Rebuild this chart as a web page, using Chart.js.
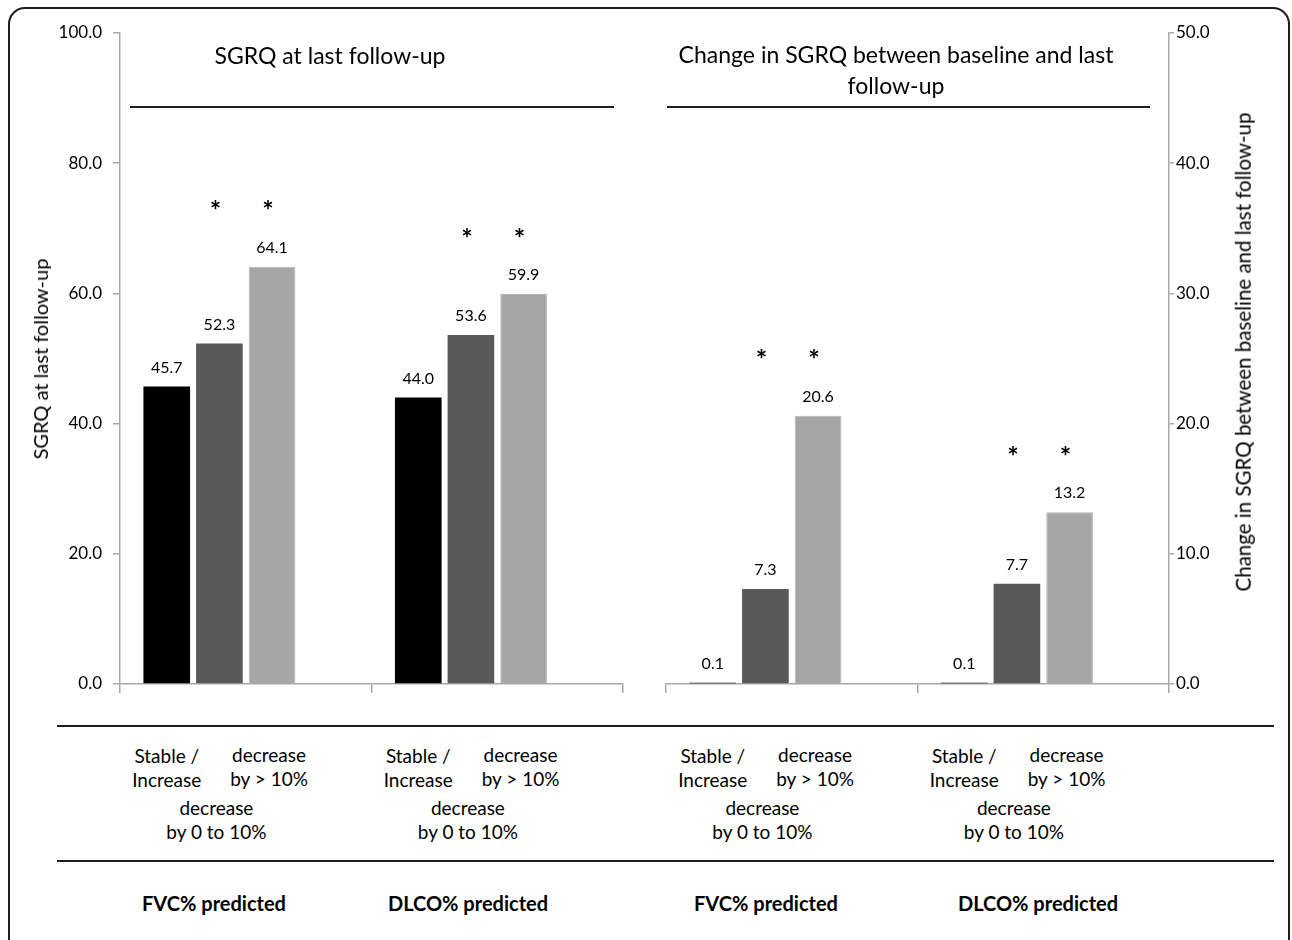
<!DOCTYPE html>
<html><head><meta charset="utf-8">
<script src="https://cdn.jsdelivr.net/npm/chart.js@4.4.1/dist/chart.umd.min.js"></script>
<style>
html,body{margin:0;padding:0;background:#fff;}
body{width:1292px;height:940px;position:relative;overflow:hidden;font-family:Lato,"Open Sans",sans-serif;color:#000;}
#frame{position:absolute;left:8px;top:7px;width:1282px;height:990px;border:2px solid #1e1e1e;border-radius:17px;box-sizing:border-box;}
.c{position:absolute;top:0;height:720px;}
#leftBox{left:0;width:640px;}
#rightBox{left:640px;width:652px;}
.t{position:absolute;white-space:nowrap;transform:translate(-50%,-50%);line-height:1;}
.g{position:absolute;white-space:nowrap;transform:translateX(-50%);text-align:center;font-size:19px;line-height:24px;}
.hl{position:absolute;height:2px;background:#1e1e1e;}
.ttl{font-size:23px;}
.ax{font-size:20px;}
.b{font-weight:bold;font-size:20px;}
</style></head>
<body>
<div id="frame"></div>
<div class="c" id="leftBox"><canvas id="leftChart"></canvas></div>
<div class="c" id="rightBox"><canvas id="rightChart"></canvas></div>

<div class="t ttl" style="left:330px;top:55px;">SGRQ at last follow-up</div>
<div class="hl" style="left:130px;top:106px;width:484px;"></div>
<div class="t ttl" style="left:896px;top:70px;line-height:31px;text-align:center;">Change in SGRQ between baseline and last<br>follow-up</div>
<div class="hl" style="left:667px;top:106px;width:483px;"></div>

<div class="t ax" style="left:40px;top:359px;transform:translate(-50%,-50%) rotate(-90deg);">SGRQ at last follow-up</div>
<div class="t ax" style="left:1243px;top:352px;transform:translate(-50%,-50%) rotate(-90deg);font-size:20.5px;">Change in SGRQ between baseline and last follow-up</div>

<div class="hl" style="left:57px;top:725px;width:1217px;"></div>
<div class="hl" style="left:57px;top:860px;width:1217px;"></div>

<div class="t b" style="left:214px;top:903px;">FVC% predicted</div>
<div class="t b" style="left:468px;top:903px;">DLCO% predicted</div>
<div class="t b" style="left:766px;top:903px;">FVC% predicted</div>
<div class="t b" style="left:1038px;top:903px;">DLCO% predicted</div>

<div id="labels"></div>

<script>
// ---- data ----
const groups = ['FVC% predicted', 'DLCO% predicted'];
const categoryNames = ['Stable / Increase', 'decrease by 0 to 10%', 'decrease by > 10%'];
const sgrqStable = [45.7, 44.0];
const sgrqDec0to10 = [52.3, 53.6];
const sgrqDecGt10 = [64.1, 59.9];
const chgStable = [0.1, 0.1];
const chgDec0to10 = [7.3, 7.7];
const chgDecGt10 = [20.6, 13.2];
const significant = [false, true, true]; // asterisks on decrease categories
const seriesColors = ['#000000', '#595959', '#a6a6a6'];
const leftMax = 100, leftStep = 20;
const rightMax = 50, rightStep = 10;

const FONT = 'Lato';
const AXIS_COLOR = '#a8a8a8';

const annot = {
  id: 'annot',
  afterDatasetsDraw(chart) {
    const ctx = chart.ctx;
    ctx.save();
    ctx.fillStyle = '#000';
    ctx.textAlign = 'center';
    ctx.textBaseline = 'middle';
    const n = chart.data.labels.length;
    for (let i = 0; i < n; i++) {
      let minY = Infinity;
      for (let d = 0; d < 3; d++) {
        const el = chart.getDatasetMeta(d).data[i];
        const v = chart.data.datasets[d].data[i];
        ctx.font = '16px ' + FONT;
        ctx.fillText(v.toFixed(1), el.x, el.y - 19);
        minY = Math.min(minY, el.y);
      }
      ctx.font = 'bold 27px ' + FONT;
      for (let d = 0; d < 3; d++) {
        if (!significant[d]) continue;
        const el = chart.getDatasetMeta(d).data[i];
        ctx.fillText('*', el.x - 4, minY - 55);
      }
    }
    ctx.restore();
  }
};

function makeChart(id, s0, s1, s2, max, step, pos, pad, yWidth) {
  return new Chart(document.getElementById(id), {
    type: 'bar',
    data: {
      labels: groups,
      datasets: [
        { data: s0, backgroundColor: seriesColors[0] },
        { data: s1, backgroundColor: seriesColors[1] },
        { data: s2, backgroundColor: seriesColors[2], borderColor: '#b4b4b4', borderWidth: 1 },
        { data: groups.map(() => null), backgroundColor: 'rgba(0,0,0,0)' }
      ]
    },
    options: {
      responsive: true,
      maintainAspectRatio: false,
      animation: false,
      events: [],
      categoryPercentage: 0.8375,
      barPercentage: 0.886,
      layout: { padding: pad },
      plugins: { legend: { display: false }, tooltip: { enabled: false }, title: { display: false } },
      scales: {
        x: {
          type: 'category',
          grid: { display: true, drawOnChartArea: false, drawTicks: true, tickLength: 9, color: AXIS_COLOR, lineWidth: 1.5, offset: true },
          border: { display: true, color: AXIS_COLOR, width: 1.5 },
          ticks: { display: false },
          afterFit(s) { s.height = 36; }
        },
        y: {
          position: pos,
          min: 0, max: max,
          ticks: { stepSize: step, callback: v => Number(v).toFixed(1), font: { family: FONT, size: 17 }, color: '#000', padding: pos === 'left' ? 11 : 2 },
          grid: { drawOnChartArea: false, drawTicks: true, tickLength: pos === 'left' ? 7 : 5, color: AXIS_COLOR, lineWidth: 1.5 },
          border: { display: true, color: AXIS_COLOR, width: 1.5 },
          afterFit(s) { s.width = yWidth; }
        }
      }
    },
    plugins: [annot]
  });
}

const leftChart = makeChart('leftChart', sgrqStable, sgrqDec0to10, sgrqDecGt10, leftMax, leftStep, 'left', { top: 33, right: 17, left: 0, bottom: 0 }, 120);
const rightChart = makeChart('rightChart', chgStable, chgDec0to10, chgDecGt10, rightMax, rightStep, 'right', { top: 33, right: 0, left: 26, bottom: 0 }, 123);

// category labels under the bars, positioned from the library's bar elements
const labelTexts = [
  { d: 0, html: 'Stable /<br>Increase', dx: 0, top: 744 },
  { d: 2, html: 'decrease<br>by &gt; 10%', dx: -3, top: 743 },
  { d: 1, html: 'decrease<br>by 0 to 10%', dx: -3, top: 796 }
];
function placeLabels() {
  const host = document.getElementById('labels');
  host.innerHTML = '';
  [[leftChart, 0], [rightChart, 640]].forEach(([ch, off]) => {
    for (let i = 0; i < groups.length; i++) {
      labelTexts.forEach(lt => {
        const el = ch.getDatasetMeta(lt.d).data[i];
        const div = document.createElement('div');
        div.className = 'g';
        div.innerHTML = lt.html;
        div.style.left = (off + el.x + lt.dx) + 'px';
        div.style.top = lt.top + 'px';
        host.appendChild(div);
      });
    }
  });
}
placeLabels();
</script>
</body></html>
